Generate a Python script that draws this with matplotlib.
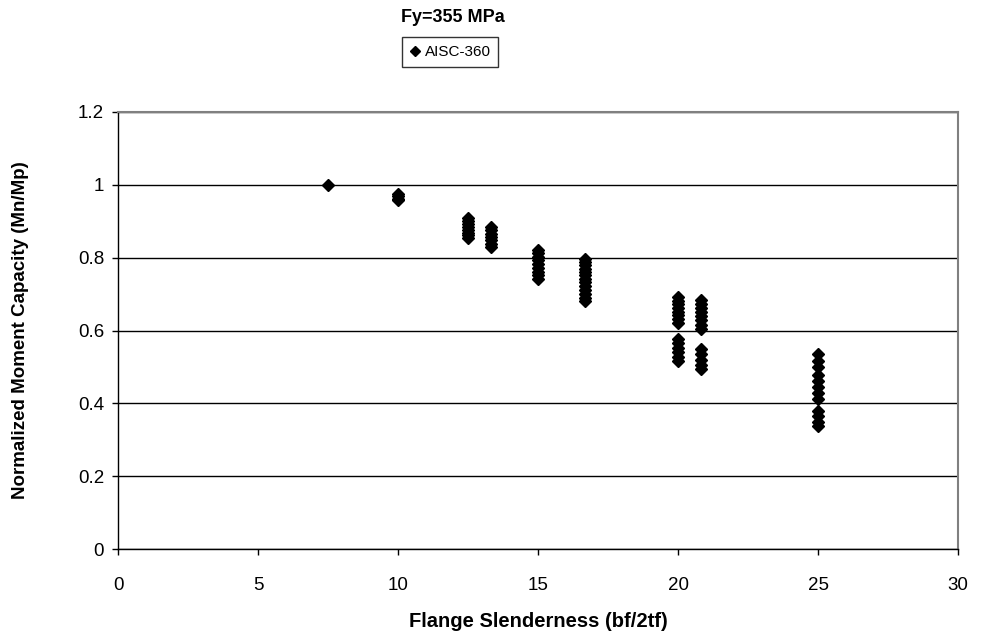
import matplotlib.pyplot as plt

# flange slenderness groups and the normalized capacities read at each one
slenderness = [7.5, 10, 12.5, 13.33, 15, 16.67, 20, 20.83, 25]
capacity = [
    [1.0],
    [0.975, 0.968, 0.962, 0.957],
    [0.908, 0.90, 0.892, 0.885, 0.877, 0.869, 0.861, 0.853],
    [0.884, 0.875, 0.866, 0.857, 0.848, 0.838, 0.828],
    [0.822, 0.812, 0.802, 0.793, 0.783, 0.772, 0.762, 0.752, 0.742],
    [0.797, 0.788, 0.779, 0.770, 0.761, 0.752, 0.742, 0.732, 0.722, 0.712, 0.700, 0.690, 0.682],
    [0.692, 0.682, 0.672, 0.662, 0.652, 0.642, 0.632, 0.621, 0.578, 0.566, 0.553, 0.540, 0.526, 0.515],
    [0.683, 0.673, 0.663, 0.652, 0.641, 0.630, 0.615, 0.603, 0.548, 0.535, 0.520, 0.505, 0.493],
    [0.535, 0.515, 0.500, 0.478, 0.460, 0.445, 0.428, 0.412, 0.380, 0.365, 0.350, 0.338],
]

xs = []
ys = []
for s, vals in zip(slenderness, capacity):
    for v in vals:
        xs.append(s)
        ys.append(v)

plt.rcParams['font.family'] = ['Liberation Sans', 'DejaVu Sans']

fig = plt.figure(figsize=(9.92, 6.39), dpi=100)
ax = fig.add_axes([118 / 992, 90 / 639, 840 / 992, 437 / 639])

ax.plot(xs, ys, linestyle='none', marker='D', markersize=6.5, color='black', label='AISC-360')

ax.set_xlim(0, 30)
ax.set_ylim(0, 1.2)
ax.set_xticks([0, 5, 10, 15, 20, 25, 30])
ax.set_yticks([0, 0.2, 0.4, 0.6, 0.8, 1.0, 1.2])
ax.set_yticklabels(['0', '0.2', '0.4', '0.6', '0.8', '1', '1.2'])
ax.tick_params(labelsize=13.5, direction='out', length=4, width=1)
ax.tick_params(axis='x', pad=16)
ax.tick_params(axis='y', pad=6)

ax.grid(axis='y', color='black', linewidth=1)
ax.set_axisbelow(True)
for side in ['top', 'right']:
    ax.spines[side].set_color('#808080')
    ax.spines[side].set_linewidth(1.5)
for side in ['left', 'bottom']:
    ax.spines[side].set_color('black')
    ax.spines[side].set_linewidth(1)

ax.set_xlabel('Flange Slenderness (bf/2tf)', fontsize=14.5, fontweight='bold', labelpad=13)
ax.set_ylabel('Normalized Moment Capacity (Mn/Mp)', fontsize=13.5, fontweight='bold', labelpad=35)

fig.text(453 / 992, 1 - 18 / 639, 'Fy=355 MPa', ha='center', va='center', fontsize=13, fontweight='bold')
leg = fig.legend(loc='center', bbox_to_anchor=(450 / 992, 1 - 52 / 639), fontsize=11,
                 frameon=True, fancybox=False, edgecolor='black', handletextpad=0.2,
                 handlelength=0.8, borderpad=0.5, markerscale=0.8)
leg.get_frame().set_linewidth(1)

fig.savefig('out.png', dpi=100)
